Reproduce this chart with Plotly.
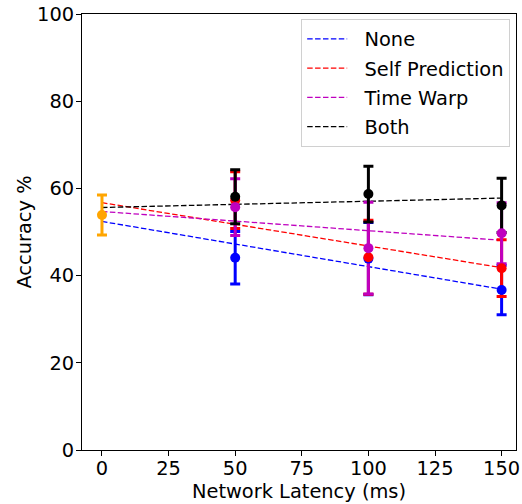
import numpy as np
import plotly.graph_objects as go

# ---- data ----
latency = [50, 100, 150]
baseline_latency = [0]
baseline_acc = [53.9]
baseline_err = [4.6]

series_names = ["None", "Self Prediction", "Time Warp", "Both"]
none_acc = [44.1, 43.9, 36.7]
none_err = [6.0, 8.3, 5.7]
self_acc = [57.3, 44.2, 41.7]
self_err = [6.5, 8.5, 6.5]
warp_acc = [55.7, 46.3, 49.7]
warp_err = [6.5, 10.5, 7.0]
both_acc = [58.1, 58.7, 56.1]
both_err = [6.2, 6.4, 6.2]

x_ticks = [0, 25, 50, 75, 100, 125, 150]
y_ticks = [0, 20, 40, 60, 80, 100]

colors = ["#0000ff", "#ff0000", "#bf00bf", "#000000"]
accs = [none_acc, self_acc, warp_acc, both_acc]
errs = [none_err, self_err, warp_err, both_err]

FONT = "DejaVu Sans"
FS = 19.4
NB = "\u00a0\u00a0"

fig = go.Figure()

# dashed linear fits (include the shared 0 ms point)
for name, col, acc in zip(series_names, colors, accs):
    xs = np.array(baseline_latency + latency, dtype=float)
    ys = np.array(baseline_acc + acc, dtype=float)
    m, b = np.polyfit(xs, ys, 1)
    xl = np.array([xs.min(), xs.max()])
    fig.add_trace(go.Scatter(
        x=xl, y=m * xl + b, mode="lines", name=NB + name,
        line=dict(color=col, width=1.3, dash="5.5px,2.4px"),
        legendgroup=name, showlegend=True,
    ))

# error bars (drawn below all markers)
fig.add_trace(go.Scatter(
    x=baseline_latency, y=baseline_acc, mode="markers", showlegend=False,
    marker=dict(color="rgba(0,0,0,0)", size=1), hoverinfo="skip",
    error_y=dict(type="data", array=baseline_err, color="#ffa500", thickness=3, width=5),
))
for name, col, acc, err in zip(series_names, colors, accs, errs):
    fig.add_trace(go.Scatter(
        x=latency, y=acc, mode="markers", showlegend=False,
        marker=dict(color="rgba(0,0,0,0)", size=1), hoverinfo="skip",
        error_y=dict(type="data", array=err, color=col, thickness=3, width=5),
    ))

# markers
fig.add_trace(go.Scatter(
    x=baseline_latency, y=baseline_acc, mode="markers", showlegend=False,
    marker=dict(color="#ffa500", size=10),
))
for name, col, acc in zip(series_names, colors, accs):
    fig.add_trace(go.Scatter(
        x=latency, y=acc, mode="markers", showlegend=False,
        marker=dict(color=col, size=10),
    ))

axis_common = dict(
    showgrid=False, zeroline=False, showline=True, linecolor="#000000", linewidth=1,
    mirror=True, ticks="outside", ticklen=5, tickwidth=1, tickcolor="#000000",
    tickfont=dict(family=FONT, size=FS, color="#000000"), automargin=False,
)

fig.update_layout(
    width=522, height=504,
    margin=dict(l=82, r=6, t=14, b=54),
    paper_bgcolor="white", plot_bgcolor="white",
    font=dict(family=FONT, size=FS, color="#000000"),
    xaxis=dict(range=[-7.5, 155.4], tickvals=x_ticks, ticklabelstandoff=-4,
               title=dict(text="Network Latency (ms)", font=dict(family=FONT, size=FS), standoff=3),
               **axis_common),
    yaxis=dict(range=[0, 100], tickvals=y_ticks, ticklabelstandoff=-2,
               title=dict(text="Accuracy %", font=dict(family=FONT, size=FS), standoff=0),
               **axis_common),
    legend=dict(
        x=0.505, y=0.989, xanchor="left", yanchor="top",
        bgcolor="white", bordercolor="#d0d0d0", borderwidth=1,
        font=dict(family=FONT, size=FS, color="#000000"),
        itemwidth=40, tracegroupgap=1, traceorder="grouped",
    ),
    showlegend=True,
)

fig.write_html("out.html")
